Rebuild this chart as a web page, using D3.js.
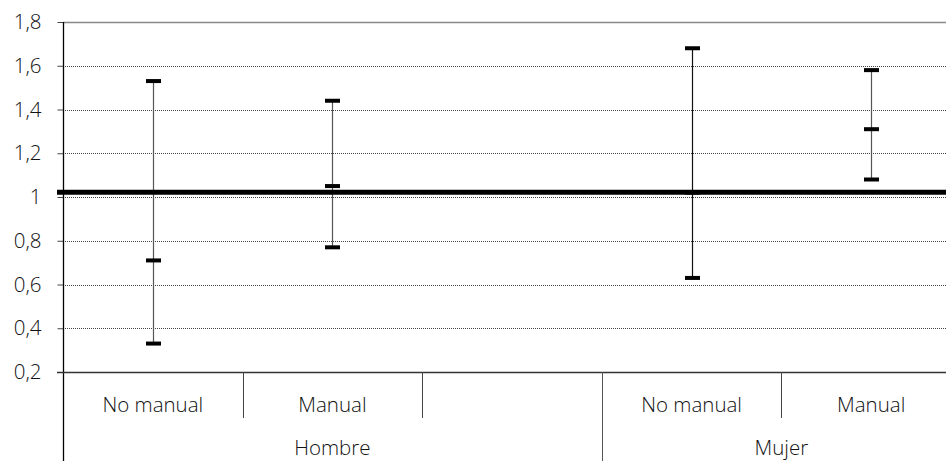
<!DOCTYPE html>
<html>
<head>
<meta charset="utf-8">
<script src="https://cdn.jsdelivr.net/npm/d3@7"></script>
<style>
  body { margin: 0; background: #fff; }
  svg { display: block; font-family: "Open Sans", "Noto Sans", sans-serif; font-weight: 300; }
</style>
</head>
<body>
<div id="chart"></div>
<script>
// data
const groups = ['Hombre', 'Mujer'];
const slots = [
  {group: 'Hombre', label: 'No manual'},
  {group: 'Hombre', label: 'Manual'},
  {group: 'Hombre', label: ''},
  {group: 'Mujer', label: 'No manual'},
  {group: 'Mujer', label: 'Manual'}
];
const highs = [1.53, 1.44, null, 1.68, 1.58];
const mids = [0.71, 1.05, null, 1.02, 1.31];
const lows = [0.33, 0.77, null, 0.63, 1.08];
const refValue = 1.022;
const yTicks = [0.2, 0.4, 0.6, 0.8, 1, 1.2, 1.4, 1.6, 1.8];

const width = 946;
const height = 461;
const mLeft = 63, mTop = 22, mBottom = 372, plotRight = 961;
const fontSize = 20.5;
const textColor = '#111';

const svg = d3.select('#chart').append('svg')
  .attr('width', width)
  .attr('height', height);

const x = d3.scaleBand()
  .domain(d3.range(slots.length))
  .range([mLeft, plotRight]);

const y = d3.scaleLinear()
  .domain([0.2, 1.8])
  .range([mBottom, mTop]);

const fmt = d => String(d).replace('.', ',');

// gridlines
svg.append('g')
  .selectAll('line')
  .data(yTicks.filter(d => d > 0.2 && d < 1.8))
  .enter().append('line')
  .attr('x1', mLeft).attr('x2', width)
  .attr('y1', d => Math.round(y(d)) + 0.5).attr('y2', d => Math.round(y(d)) + 0.5)
  .attr('stroke', '#444')
  .attr('stroke-width', 1)
  .attr('stroke-dasharray', '1,1');

// top border
svg.append('line')
  .attr('x1', mLeft).attr('x2', width)
  .attr('y1', y(1.8) + 0.5).attr('y2', y(1.8) + 0.5)
  .attr('stroke', '#888').attr('stroke-width', 1.5);

// y axis
const yAxis = svg.append('g')
  .attr('transform', `translate(${mLeft + 0.5},0)`)
  .call(d3.axisLeft(y).tickValues(yTicks).tickFormat(fmt).tickSize(6).tickPadding(16));
yAxis.select('.domain').remove();
yAxis.selectAll('.tick line').attr('stroke', '#444');
yAxis.selectAll('.tick text')
  .attr('font-size', fontSize)
  .attr('fill', textColor)
  .attr('font-family', '"Open Sans", sans-serif')
  .attr('font-weight', 300);

svg.append('line')
  .attr('x1', mLeft + 0.5).attr('x2', mLeft + 0.5)
  .attr('y1', mTop).attr('y2', height)
  .attr('stroke', '#000').attr('stroke-width', 1.3);

// bottom axis line
svg.append('line')
  .attr('x1', mLeft - 6).attr('x2', width)
  .attr('y1', mBottom + 0.5).attr('y2', mBottom + 0.5)
  .attr('stroke', '#333').attr('stroke-width', 1.5);

// category separators
const inner = [1, 2, 4];
svg.append('g')
  .selectAll('line')
  .data(inner)
  .enter().append('line')
  .attr('x1', i => Math.round(x(i)) + 0.5).attr('x2', i => Math.round(x(i)) + 0.5)
  .attr('y1', mBottom).attr('y2', 418)
  .attr('stroke', '#444');

svg.append('line')
  .attr('x1', Math.round(x(3)) + 0.5).attr('x2', Math.round(x(3)) + 0.5)
  .attr('y1', mBottom).attr('y2', height)
  .attr('stroke', '#555').attr('stroke-width', 1);

// category labels
svg.append('g')
  .selectAll('text')
  .data(slots)
  .enter().append('text')
  .attr('x', (d, i) => x(i) + x.bandwidth() / 2)
  .attr('y', 412)
  .attr('text-anchor', 'middle')
  .attr('font-size', fontSize)
  .attr('fill', textColor)
  .text(d => d.label);

svg.append('g')
  .selectAll('text')
  .data(groups)
  .enter().append('text')
  .attr('x', g => {
    const idx = slots.map((s, i) => s.group === g ? i : -1).filter(i => i >= 0);
    return (x(idx[0]) + x(idx[idx.length - 1]) + x.bandwidth()) / 2;
  })
  .attr('y', 455)
  .attr('text-anchor', 'middle')
  .attr('font-size', fontSize)
  .attr('fill', textColor)
  .text(d => d);

// error bars
const bars = slots.map((s, i) => ({i, hi: highs[i], mid: mids[i], lo: lows[i]}))
  .filter(d => d.hi != null);

const eb = svg.append('g').selectAll('g')
  .data(bars)
  .enter().append('g')
  .attr('transform', d => `translate(${Math.round(x(d.i) + x.bandwidth() / 2) + 0.5},0)`);

eb.append('line')
  .attr('y1', d => y(d.hi)).attr('y2', d => y(d.lo))
  .attr('stroke', d => d.i === 3 ? '#111' : '#555')
  .attr('stroke-width', 1.2);

const capW = 15, capH = 4;
['hi', 'mid', 'lo'].forEach(k => {
  eb.append('rect')
    .attr('x', -capW / 2)
    .attr('y', d => y(d[k]) - capH / 2)
    .attr('width', capW)
    .attr('height', capH)
    .attr('fill', '#000');
});

// reference line
svg.append('line')
  .attr('x1', mLeft - 6).attr('x2', width)
  .attr('y1', y(refValue)).attr('y2', y(refValue))
  .attr('stroke', '#000')
  .attr('stroke-width', 5);
</script>
</body>
</html>
